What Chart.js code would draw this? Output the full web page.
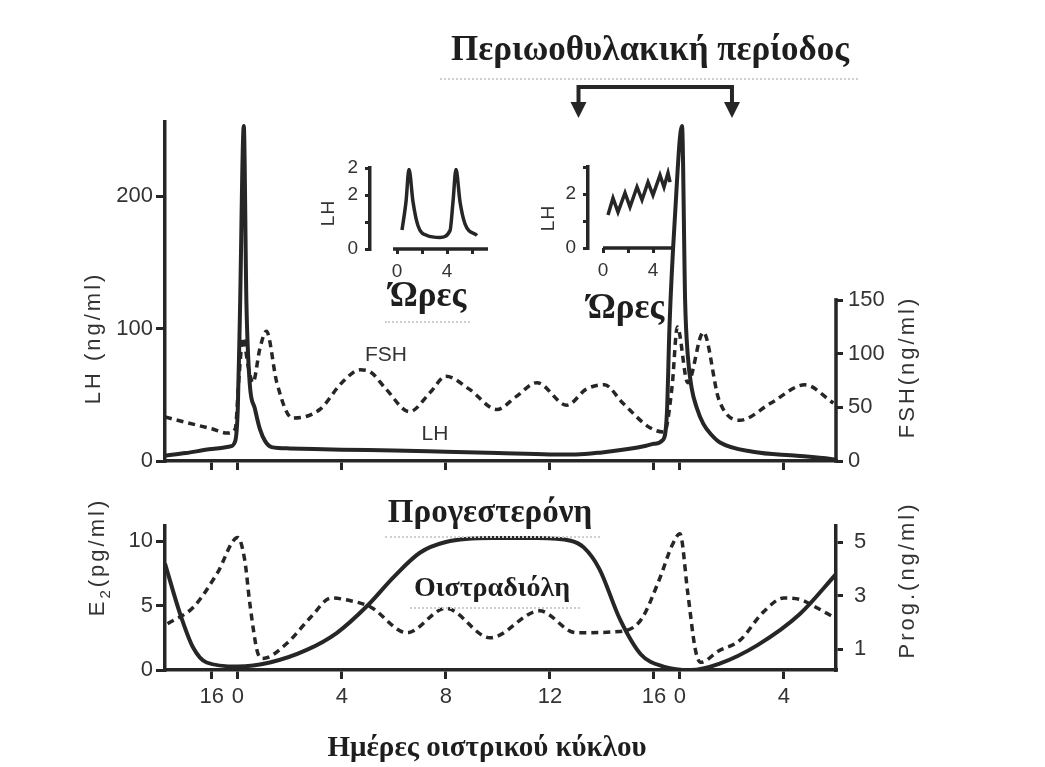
<!DOCTYPE html>
<html>
<head>
<meta charset="utf-8">
<script src="https://cdn.jsdelivr.net/npm/chart.js@4.4.1/dist/chart.umd.min.js"></script>
<style>
  body { margin: 0; background: #fff; }
  #page { position: relative; width: 1045px; height: 767px; overflow: hidden; background: #fff; }
  canvas { position: absolute; }
  .t { position: absolute; transform: translate(-50%, -50%); white-space: nowrap; line-height: 1; color: #1e1e1e; }
  .serif { font-family: "Liberation Serif", "DejaVu Serif", serif; font-weight: bold; }
  .sans { font-family: "Liberation Sans", Arial, sans-serif; color: #333; }
  .rot { transform: translate(-50%, -50%) rotate(-90deg); letter-spacing: 3px; }
  .dots { position: absolute; border-top: 2px dotted #cfcfcf; height: 0; }
</style>
</head>
<body>
<div id="page">
  <canvas id="upper" width="1045" height="490" style="left:0;top:0"></canvas>
  <canvas id="lower" width="1045" height="277" style="left:0;top:490px"></canvas>
  <canvas id="inset1" width="220" height="180" style="left:300px;top:140px"></canvas>
  <canvas id="inset2" width="200" height="180" style="left:520px;top:140px"></canvas>

  <div class="t serif" style="left:650px;top:48px;font-size:35px">Περιωοθυλακική περίοδος</div>
  <div class="dots" style="left:440px;top:78px;width:418px"></div>

  <div class="t sans rot" style="left:93px;top:338px;font-size:22px">LH (ng/ml)</div>
  <div class="t sans rot" style="left:907px;top:367px;font-size:22px">FSH(ng/ml)</div>
  <div class="t sans" style="left:386px;top:353px;font-size:21px">FSH</div>
  <div class="t sans" style="left:435px;top:432px;font-size:21px">LH</div>

  <div class="t sans rot" style="left:327px;top:213px;font-size:19px;letter-spacing:1px">LH</div>
  <div class="t serif" style="left:428px;top:294px;font-size:35px">Ώρες</div>
  <div class="dots" style="left:385px;top:321px;width:85px"></div>
  <div class="t sans rot" style="left:547px;top:218px;font-size:19px;letter-spacing:1px">LH</div>
  <div class="t serif" style="left:626px;top:306px;font-size:35px">Ώρες</div>

  <div class="t serif" style="left:490px;top:511px;font-size:33px">Προγεστερόνη</div>
  <div class="dots" style="left:385px;top:536px;width:215px"></div>
  <div class="t serif" style="left:492px;top:587px;font-size:28px">Οιστραδιόλη</div>
  <div class="dots" style="left:410px;top:607px;width:170px"></div>
  <div class="t sans rot" style="left:99px;top:557px;font-size:22px">E<sub style="font-size:15px">2</sub>(pg/ml)</div>
  <div class="t sans rot" style="left:907px;top:580px;font-size:22px">Prog.(ng/ml)</div>

  <div class="t serif" style="left:487px;top:746px;font-size:29px">Ημέρες οιστρικού κύκλου</div>
</div>

<script>
// x is the day laid out continuously: -1 is day 16 of the previous cycle, 17 is day 0 of the next one
const dayTicks = [-1, 0, 4, 8, 12, 16, 17, 21];
const dayTickLabels = ['16', '0', '4', '8', '12', '16', '0', '4'];
const periodDays = [13.1, 19.0];   // Περιωοθυλακική περίοδος bracket

// upper panel
const lhDays = [-2.8, -2.0, -1.0, -0.3, -0.1, 0.0, 0.08, 0.23, 0.33, 0.46, 0.65, 0.85, 1.05, 1.3, 2.0, 4.0, 6.0, 8.0, 10.0, 12.0, 13.0, 14.0, 15.0, 15.7, 16.0, 16.35, 16.5, 16.6, 16.8, 17.08, 17.2, 17.3, 17.45, 17.65, 17.9, 18.2, 18.54, 19.8, 21.5, 22.8, 23.0];
const lhValues = [4, 6, 9, 11, 15, 40, 110, 253, 120, 58, 40, 24, 15, 10.5, 9.5, 8.5, 8, 7, 6, 5, 5, 6.5, 9, 11.5, 13, 16, 37, 103, 182, 253, 120, 80, 55, 40, 28, 20, 14, 7, 4, 1.5, 1];
const fshDays = [-2.8, -2.0, -1.0, -0.4, -0.1, 0.05, 0.2, 0.4, 0.58, 0.85, 1.1, 1.5, 2.1, 3.15, 4.0, 4.7, 5.1, 5.7, 6.6, 7.4, 8.0, 8.9, 9.96, 10.7, 11.5, 12.65, 13.4, 14.1, 14.8, 15.85, 16.4, 16.7, 16.9, 17.3, 17.9, 18.5, 19.3, 20.5, 21.8, 22.9];
const fshValues = [41, 36, 30, 26, 30, 80, 115, 88, 73, 105, 121, 73, 40, 48, 73, 85, 83, 67, 46, 64, 79, 67, 48, 60, 73, 52, 67, 71, 54, 31, 27, 70, 125, 73, 120, 57, 38, 54, 71, 54];

// lower panel
const e2Days = [-2.7, -1.7, -0.8, 0.0, 0.27, 0.46, 0.77, 0.96, 1.9, 2.8, 3.6, 4.3, 5.1, 6.5, 8.0, 9.7, 11.6, 13.0, 14.7, 15.5, 16.2, 16.7, 17.0, 17.3, 17.6, 17.8, 18.5, 19.3, 20.2, 21.0, 21.6, 22.3, 23.0];
const e2Values = [3.6, 4.9, 7.5, 10.3, 8.5, 5.2, 1.3, 0.9, 2.1, 4.1, 5.6, 5.4, 4.9, 2.9, 4.8, 2.5, 4.6, 2.9, 3.0, 3.9, 7.0, 9.7, 10.6, 6.0, 1.5, 0.6, 1.5, 2.3, 4.5, 5.6, 5.5, 4.8, 4.0];
const progDays = [-2.8, -2.23, -1.73, -1.2, 0.0, 1.23, 2.65, 3.8, 4.96, 6.0, 7.0, 8.0, 9.8, 11.5, 12.8, 13.3, 13.9, 14.7, 15.5, 16.4, 17.4, 18.5, 20.0, 21.6, 23.0];
const progValues = [4.2, 2.35, 1.08, 0.5, 0.35, 0.5, 0.97, 1.6, 2.6, 3.7, 4.6, 5.0, 5.15, 5.15, 5.05, 4.8, 4.0, 2.1, 0.8, 0.34, 0.22, 0.45, 1.16, 2.3, 3.8];

// insets (hours)
const pulseHours = [0.4, 0.72, 0.96, 1.28, 1.68, 2.4, 3.44, 4.24, 4.48, 4.72, 5.04, 5.44, 6.4];
const pulseLH = [0.7, 1.75, 2.95, 1.75, 0.86, 0.5, 0.43, 0.68, 1.75, 2.95, 1.75, 0.93, 0.5];
const rampHours = [0.4, 0.8, 1.2, 1.76, 2.16, 2.72, 3.12, 3.6, 4.0, 4.56, 4.88, 5.2, 5.36];
const rampLH = [1.22, 1.85, 1.33, 2.04, 1.52, 2.26, 1.78, 2.44, 1.96, 2.7, 2.26, 2.78, 2.44];
const hourTicks = [0, 2, 4, 6];
const hourTickLabels = ['0', '', '4', ''];
const insetLhTicks = [0, 1, 2, 3];
const pulseLhTickLabels = ['0', '', '2', '2'];
const rampLhTickLabels = ['0', '', '2', ''];

const INK = '#262626';
const TICK_COLOR = '#333';
const X_MIN = -2.8, X_MAX = 23.0;

Chart.defaults.font.family = 'Liberation Sans';

function points(xs, ys) {
    return xs.map((x, i) => ({x: x, y: ys[i]}));
}
function fixedTicks(values) {
    return scale => { scale.ticks = values.map(v => ({value: v})); };
}
function labelsFor(values, labels) {
    return v => labels[values.indexOf(v)];
}
function solid(data, axis) {
    return {data: data, yAxisID: axis, borderColor: INK, borderWidth: 4, pointRadius: 0, cubicInterpolationMode: 'monotone', fill: false};
}
function dashed(data, axis) {
    return {data: data, yAxisID: axis, borderColor: INK, borderWidth: 3.5, borderDash: [7, 5], pointRadius: 0, cubicInterpolationMode: 'monotone', fill: false};
}
function axisGrid(len) {
    return {drawOnChartArea: false, tickLength: len, color: INK, lineWidth: 3};
}
const baseOptions = {
    responsive: false,
    animation: false,
    devicePixelRatio: 1,
    events: [],
    plugins: {legend: {display: false}, tooltip: {enabled: false}}
};

// upper panel: the FSH axis stops at 150, and the bracket above the second surge
const upperDecor = {
    id: 'upperDecor',
    afterDraw(chart) {
        const {ctx, chartArea, scales} = chart;
        ctx.save();
        ctx.strokeStyle = INK;
        ctx.fillStyle = INK;
        ctx.lineWidth = 3.5;
        ctx.beginPath();
        ctx.moveTo(chartArea.right, scales.y1.getPixelForValue(150) - 2);
        ctx.lineTo(chartArea.right, chartArea.bottom + 1.75);
        ctx.stroke();

        const x1 = scales.x.getPixelForValue(periodDays[0]);
        const x2 = scales.x.getPixelForValue(periodDays[1]);
        ctx.lineWidth = 4;
        ctx.beginPath();
        ctx.moveTo(x1, 104);
        ctx.lineTo(x1, 87);
        ctx.lineTo(x2, 87);
        ctx.lineTo(x2, 104);
        ctx.stroke();
        [x1, x2].forEach(x => {
            ctx.beginPath();
            ctx.moveTo(x - 8, 102);
            ctx.lineTo(x + 8, 102);
            ctx.lineTo(x, 118);
            ctx.closePath();
            ctx.fill();
        });
        ctx.restore();
    }
};

new Chart(document.getElementById('upper'), {
    type: 'line',
    data: {datasets: [solid(points(lhDays, lhValues), 'y'), dashed(points(fshDays, fshValues), 'y1')]},
    options: Object.assign({}, baseOptions, {
        layout: {padding: {left: 95, right: 139, top: 122, bottom: 17}},
        scales: {
            x: {
                type: 'linear', min: X_MIN, max: X_MAX,
                afterBuildTicks: fixedTicks(dayTicks),
                afterFit: s => { s.height = 12; },
                ticks: {display: false, autoSkip: false},
                grid: axisGrid(9),
                border: {color: INK, width: 3.5}
            },
            y: {
                position: 'left', min: 0, max: 256,
                afterBuildTicks: fixedTicks([0, 100, 200]),
                afterFit: s => { s.width = 70; },
                ticks: {font: {size: 22}, color: TICK_COLOR, padding: 3},
                grid: axisGrid(9),
                border: {color: INK, width: 3.5}
            },
            y1: {
                position: 'right', min: 0, max: 316,
                afterBuildTicks: fixedTicks([0, 50, 100, 150]),
                afterFit: s => { s.width = 70; },
                ticks: {font: {size: 22}, color: TICK_COLOR, padding: 5},
                grid: axisGrid(7),
                border: {display: false}
            }
        }
    }),
    plugins: [upperDecor]
});

new Chart(document.getElementById('lower'), {
    type: 'line',
    data: {datasets: [dashed(points(e2Days, e2Values), 'y'), solid(points(progDays, progValues), 'y1')]},
    options: Object.assign({}, baseOptions, {
        layout: {padding: {left: 95, right: 139, top: 36, bottom: 57}},
        scales: {
            x: {
                type: 'linear', min: X_MIN, max: X_MAX,
                afterBuildTicks: fixedTicks(dayTicks),
                afterFit: s => { s.height = 40; },
                ticks: {font: {size: 22}, color: TICK_COLOR, padding: 5, autoSkip: false, maxRotation: 0,
                        callback: labelsFor(dayTicks, dayTickLabels)},
                grid: axisGrid(9),
                border: {color: INK, width: 3.5}
            },
            y: {
                position: 'left', min: 0, max: 11.2,
                afterBuildTicks: fixedTicks([0, 5, 10]),
                afterFit: s => { s.width = 70; },
                ticks: {font: {size: 22}, color: TICK_COLOR, padding: 3},
                grid: axisGrid(9),
                border: {color: INK, width: 3.5}
            },
            y1: {
                position: 'right', min: 0.22, max: 5.6,
                afterBuildTicks: fixedTicks([1, 3, 5]),
                afterFit: s => { s.width = 70; },
                ticks: {font: {size: 22}, color: TICK_COLOR, padding: 11},
                grid: axisGrid(7),
                border: {color: INK, width: 3.5}
            }
        }
    })
});

// insets: the hour axis starts a little right of the LH axis
function insetAxis(startHour) {
    return {
        id: 'insetAxis',
        afterDraw(chart) {
            const {ctx, chartArea, scales} = chart;
            ctx.save();
            ctx.strokeStyle = INK;
            ctx.lineWidth = 3.5;
            ctx.beginPath();
            ctx.moveTo(scales.x.getPixelForValue(startHour), chartArea.bottom);
            ctx.lineTo(chartArea.right, chartArea.bottom);
            ctx.stroke();
            ctx.restore();
        }
    };
}

function insetChart(id, hours, values, tension, xMin, xMax, tickLabels, pad, startHour) {
    const line = solid(points(hours, values), 'y');
    line.borderWidth = 3.5;
    if (tension === 0) { line.cubicInterpolationMode = 'default'; line.tension = 0; }
    new Chart(document.getElementById(id), {
        type: 'line',
        data: {datasets: [line]},
        options: Object.assign({}, baseOptions, {
            layout: {padding: pad},
            scales: {
                x: {
                    type: 'linear', min: xMin, max: xMax,
                    afterBuildTicks: fixedTicks(hourTicks.filter(h => h <= xMax)),
                    afterFit: s => { s.height = 40; },
                    ticks: {font: {size: 19}, color: TICK_COLOR, padding: 6, autoSkip: false, maxRotation: 0,
                            callback: labelsFor(hourTicks, hourTickLabels)},
                    grid: axisGrid(5),
                    border: {display: false}
                },
                y: {
                    min: 0, max: 3,
                    afterBuildTicks: fixedTicks(insetLhTicks),
                    afterFit: s => { s.width = 30; },
                    ticks: {font: {size: 19}, color: TICK_COLOR, padding: 7, callback: labelsFor(insetLhTicks, tickLabels)},
                    grid: axisGrid(5),
                    border: {color: INK, width: 3.5}
                }
            }
        }),
        plugins: [insetAxis(startHour)]
    });
}

insetChart('inset1', pulseHours, pulseLH, 0.4, -2.16, 7.28, pulseLhTickLabels,
    {left: 40, right: 32, top: 28, bottom: 31}, -0.32);
insetChart('inset2', rampHours, rampLH, 0, -1.2, 5.6, rampLhTickLabels,
    {left: 38, right: 47, top: 27, bottom: 32}, 0);
</script>
</body>
</html>
